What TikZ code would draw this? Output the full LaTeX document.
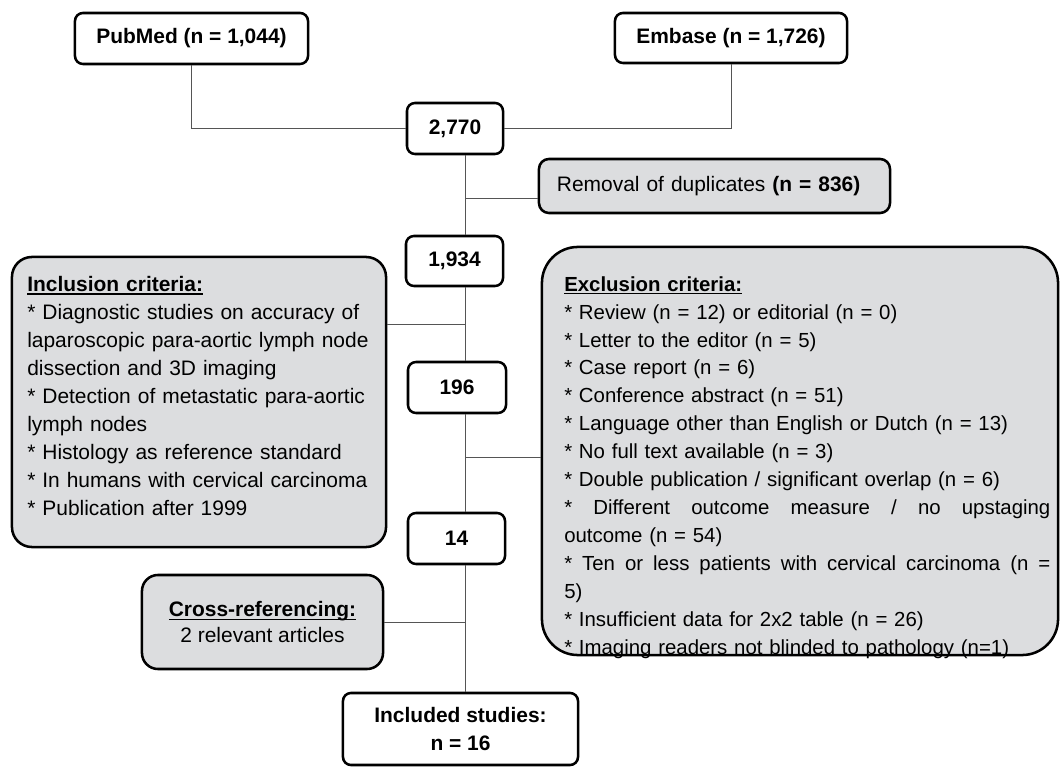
\documentclass[tikz,border=0pt]{standalone}
\usepackage{fontspec}
\setmainfont{Liberation Sans}
\usetikzlibrary{positioning}
\definecolor{boxgray}{RGB}{220,221,223}
\definecolor{linegray}{RGB}{85,85,85}
\newsavebox{\ulbox}
\newcommand{\ultext}[1]{\sbox{\ulbox}{#1}\rlap{\usebox{\ulbox}}\rule[-2.4pt]{\wd\ulbox}{1.1pt}}

\begin{document}
\begin{tikzpicture}[x=0.025cm,y=-0.025cm,
	every node/.style={font=\fontsize{14.9}{19.9}\selectfont,line width=1.8pt,inner sep=0pt},
	numbox/.style={draw,fill=white,rounded corners=0.2cm,align=center,font=\fontsize{14.9}{19.9}\selectfont\bfseries},
	greybox/.style={draw,fill=boxgray},
	connector/.style={draw=linegray,line width=0.7pt}]

					\useasboundingbox (0,0) rectangle (1061,767);

					\node[numbox,minimum width=5.825cm,minimum height=1.275cm] (pubmed) at (191.5,38.5) {PubMed (n = 1,044)};
					\node[numbox,minimum width=5.8cm,minimum height=1.25cm] (embase) at (731,38) {Embase (n = 1,726)};
					\node[numbox,minimum width=2.4cm,minimum height=1.275cm] (n2770) at (455,128.5) {2,770};
					\node[greybox,rounded corners=0.25cm,minimum height=1.35cm,text width=7.875cm,inner xsep=0.45cm,align=left] (removal) at (714.5,186) {Removal of duplicates \textbf{(n = 836)}};
					\node[numbox,minimum width=2.425cm,minimum height=1.25cm] (n1934) at (454.5,261) {1,934};
					\node[greybox,rounded corners=0.5cm,minimum width=9.35cm,minimum height=7.25cm] (incl) at (199,402) {};
					\node[anchor=north west,text width=9cm,align=left] (incltext) at (26,275) {
						\ultext{\textbf{Inclusion criteria:}}\\
						{*} Diagnostic studies on accuracy of\\
						laparoscopic para-aortic lymph node\\
						dissection and 3D imaging\\
						{*} Detection of metastatic para-aortic\\
						lymph nodes\\
						{*} Histology as reference standard\\
						{*} In humans with cervical carcinoma\\
						{*} Publication after 1999
					};
					\node[numbox,minimum width=2.45cm,minimum height=1.275cm] (n196) at (457,387.5) {196};
					\node[greybox,rounded corners=0.9cm,minimum width=12.9cm,minimum height=10.2cm] (excl) at (800,451) {};
					\node[anchor=north west,text width=12.15cm,align=left,font=\fontsize{14.5}{19.9}\selectfont] (excltext) at (563,275) {
						\ultext{\textbf{Exclusion criteria:}}\\
						{*} Review (n = 12) or editorial (n = 0)\\
						{*} Letter to the editor (n = 5)\\
						{*} Case report (n = 6)\\
						{*} Conference abstract (n = 51)\\
						{*} Language other than English or Dutch (n = 13)\\
						{*} No full text available (n = 3)\\
						{*} Double publication / significant overlap (n = 6)\\
						\makebox[12.15cm][l]{{*}\hfill Different\hfill outcome\hfill measure\hfill /\hfill no\hfill upstaging}\\
						outcome (n = 54)\\
						\makebox[12.15cm][l]{{*}\hfill Ten\hfill or\hfill less\hfill patients\hfill with\hfill cervical\hfill carcinoma\hfill (n\hfill =}\\
						5)\\
						{*} Insufficient data for 2x2 table (n = 26)\\
						{*} Imaging readers not blinded to pathology (n=1)
					};
					\node[numbox,minimum width=2.425cm,minimum height=1.275cm] (n14) at (456.5,538.5) {14};
					\node[greybox,rounded corners=0.4cm,minimum width=6.025cm,minimum height=2.35cm,align=center] (crossref) at (262.5,622) {\ultext{\textbf{Cross-referencing:}}\\[-2pt]2 relevant articles};
					\node[numbox,minimum width=5.875cm,minimum height=1.8cm] (included) at (460.5,729) {Included studies:\\n = 16};

					\coordinate (stem) at (465,0);
					\coordinate (remjoin) at ([yshift=-0.3cm]removal.west);
					\coordinate (incljoin) at ([yshift=1.925cm]incl.east);
					\coordinate (excljoin) at ([yshift=-0.15cm]excl.west);

					\draw[connector] (pubmed) |- (n2770);
					\draw[connector] (embase) |- (n2770);
					\draw[connector] (n2770.south -| stem) -- (n1934.north -| stem);
					\draw[connector] (n1934.south -| stem) -- (n196.north -| stem);
					\draw[connector] (n196.south -| stem) -- (n14.north -| stem);
					\draw[connector] (n14.south -| stem) -- (included.north -| stem);
					\draw[connector] (remjoin) -- (remjoin -| stem);
					\draw[connector] (incljoin) -- (incljoin -| stem);
					\draw[connector] (excljoin) -- (excljoin -| stem);
					\draw[connector] (crossref) -- (crossref -| stem);
\end{tikzpicture}
\end{document}
